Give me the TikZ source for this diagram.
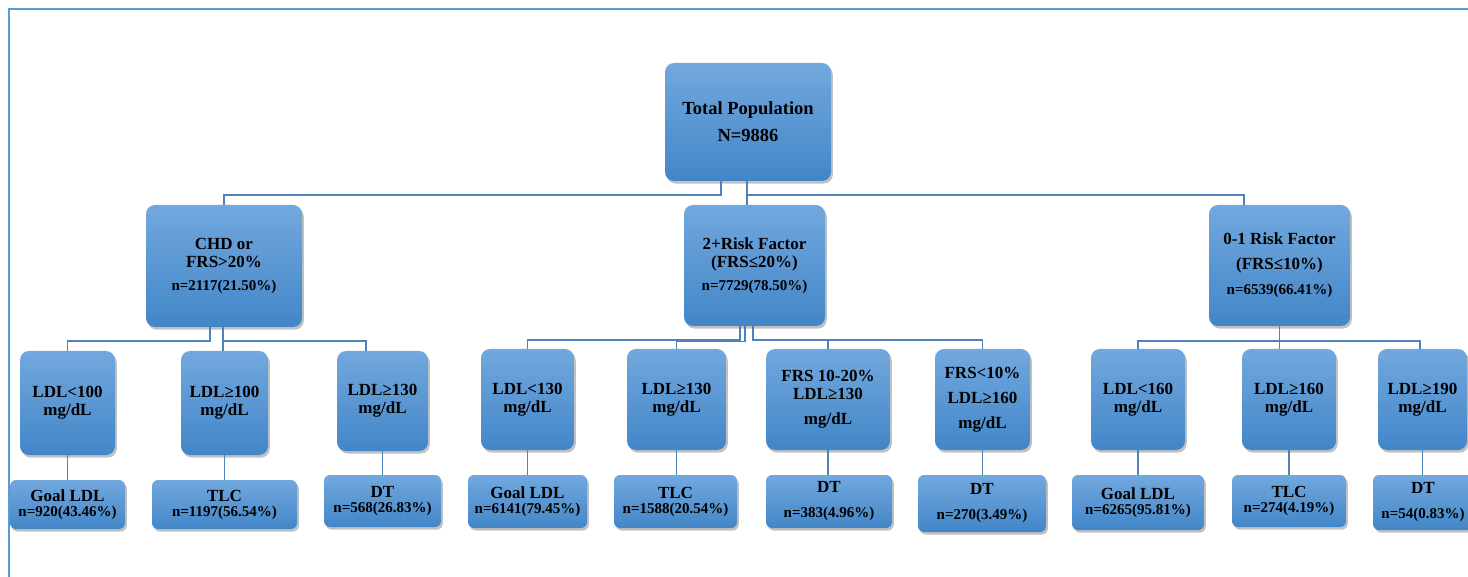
\documentclass[tikz,border=0pt]{standalone}
\usepackage{fontspec}
\setmainfont{Liberation Serif}
\usetikzlibrary{shadows}
\definecolor{boxtop}{RGB}{114,168,222}
\definecolor{boxbot}{RGB}{66,134,200}
\definecolor{conncol}{RGB}{79,129,189}
\definecolor{framecol}{RGB}{91,155,213}
\tikzset{
  bx/.style={draw=none, top color=boxtop, bottom color=boxbot, rounded corners=9pt,
    inner sep=0pt, align=center, text=black,
    font=\bfseries\fontsize{17}{18}\selectfont,
    drop shadow={shadow xshift=1.8pt, shadow yshift=-2.6pt, opacity=0.35, fill=black!70}},
  sbx/.style={bx, rounded corners=6pt},
  conn/.style={draw=conncol, line width=1.5pt},
  framel/.style={draw=framecol, line width=2pt},
}
\newcommand{\cnt}[1]{{\fontsize{15}{17}\selectfont #1}}
\begin{document}
\begin{tikzpicture}[x=1pt,y=-1pt]
\useasboundingbox (0,0) rectangle (1468,577);
\draw[framel] (9,577) -- (9,9) -- (1468,9);

% level 0
\node[bx, minimum width=166, minimum height=118, font=\bfseries\fontsize{18.5}{27}\selectfont] (top) at (748,122) {Total Population\\N=9886};

% level 1
\node[bx, minimum width=156, minimum height=122] (chd) at (224,266) {CHD or\\FRS>20\%\\[5pt]\cnt{n=2117(21.50\%)}};
\node[bx, minimum width=141, minimum height=121] (two) at (754.5,265.5) {2+Risk Factor\\(FRS≤20\%)\\[5pt]\cnt{n=7729(78.50\%)}};
\node[bx, minimum width=141, minimum height=121, font=\bfseries\fontsize{17}{25}\selectfont] (zero) at (1279.5,265.5) {0-1 Risk Factor\\(FRS≤10\%)\\\cnt{n=6539(66.41\%)}};

% level 2
\node[bx, minimum width=95, minimum height=104] (a1) at (67.5,403) {LDL<100\\mg/dL};
\node[bx, minimum width=87, minimum height=104] (a2) at (224.5,403) {LDL≥100\\mg/dL};
\node[bx, minimum width=91, minimum height=100] (a3) at (382.5,401) {LDL≥130\\mg/dL};
\node[bx, minimum width=93, minimum height=101] (b1) at (527.5,399.5) {LDL<130\\mg/dL};
\node[bx, minimum width=99, minimum height=101] (b2) at (676.5,399.5) {LDL≥130\\mg/dL};
\node[bx, minimum width=124, minimum height=101] (b3) at (828,399.5) {FRS 10-20\%\\LDL≥130\\[7pt]mg/dL};
\node[bx, minimum width=95, minimum height=101, font=\bfseries\fontsize{17}{25}\selectfont] (b4) at (982.5,399.5) {FRS<10\%\\LDL≥160\\mg/dL};
\node[bx, minimum width=94, minimum height=101] (c1) at (1138,399.5) {LDL<160\\mg/dL};
\node[bx, minimum width=94, minimum height=101] (c2) at (1289,399.5) {LDL≥160\\mg/dL};
\node[bx, minimum width=89, minimum height=101] (c3) at (1422.5,399.5) {LDL≥190\\mg/dL};

% level 3
\node[sbx, minimum width=115, minimum height=49] (g1) at (67.5,504.5) {Goal LDL\\[-3pt]\cnt{n=920(43.46\%)}};
\node[sbx, minimum width=145, minimum height=49] (t1) at (224.5,504.5) {TLC\\[-3pt]\cnt{n=1197(56.54\%)}};
\node[sbx, minimum width=117, minimum height=52] (d1) at (382.5,501) {DT\\[-3pt]\cnt{n=568(26.83\%)}};
\node[sbx, minimum width=119, minimum height=53] (g2) at (527.5,501.5) {Goal LDL\\[-3pt]\cnt{n=6141(79.45\%)}};
\node[sbx, minimum width=123, minimum height=53] (t2) at (675.5,501.5) {TLC\\[-3pt]\cnt{n=1588(20.54\%)}};
\node[sbx, minimum width=126, minimum height=53] (d2) at (829,501.5) {DT\\[7pt]\cnt{n=383(4.96\%)}};
\node[sbx, minimum width=128, minimum height=57] (d3) at (982,503.5) {DT\\[7pt]\cnt{n=270(3.49\%)}};
\node[sbx, minimum width=132, minimum height=55] (g3) at (1138,502.5) {Goal LDL\\[-3pt]\cnt{n=6265(95.81\%)}};
\node[sbx, minimum width=114, minimum height=52] (t3) at (1289,501) {TLC\\[-3pt]\cnt{n=274(4.19\%)}};
\node[sbx, minimum width=100, minimum height=55] (d4) at (1423,502.5) {DT\\[7pt]\cnt{n=54(0.83\%)}};

% connectors level 0 -> 1
\draw[conn] (top.south -| 721,0) -- (721,195) -| (chd.north);
\draw[conn] (top.south -| 747,0) -- (two.north -| 747,0);
\draw[conn] (747,195) -| (zero.north -| 1244,0);

% level 1 -> 2
\draw[conn] (chd.south -| 210,0) -- (210,341) -| (a1.north);
\draw[conn] (chd.south -| 223,0) -- (a2.north -| 223,0);
\draw[conn] (223,341) -| (a3.north -| 366,0);

\draw[conn] (two.south -| 740,0) -- (740,340) -| (b1.north);
\draw[conn] (two.south -| 745,0) -- (745,341.5) -| (b2.north);
\draw[conn] (two.south -| 753,0) -- (753,340) -| (b3.north);
\draw[conn] (753,340) -| (b4.north);

\draw[conn] (zero.south) -- (zero.south |- c2.north);
\draw[conn] (zero.south |- 0,341) -| (c1.north);
\draw[conn] (zero.south |- 0,341) -| (c3.north -| 1420,0);

% level 2 -> 3
\foreach \u/\l in {a1/g1,a2/t1,a3/d1,b1/g2,b2/t2,b3/d2,b4/d3,c1/g3,c2/t3,c3/d4}
  \draw[conn] (\u.south) -- (\u.south |- \l.north);
\end{tikzpicture}
\end{document}
